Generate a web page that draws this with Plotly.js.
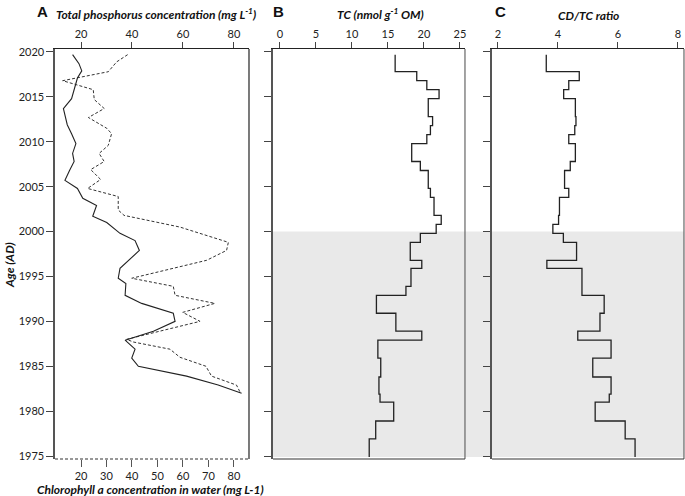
<!DOCTYPE html>
<html>
<head>
<meta charset="utf-8">
<script src="https://cdn.plot.ly/plotly-3.0.1.min.js"></script>
<style>
  html, body { margin: 0; padding: 0; background: #fff; }
  #chart { width: 685px; height: 496px; }
</style>
</head>
<body>
<div id="chart"></div>
<script>
// panel A: total phosphorus (solid, top axis) and chlorophyll a (dashed, bottom axis)
const tpYear = [2019.7, 2018.7, 2017.9, 2017.1, 2016.1, 2014.8, 2013.7, 2013.0, 2011.9, 2010.9,
  2009.8, 2008.7, 2007.8, 2006.8, 2005.7, 2004.8, 2003.7, 2002.9, 2001.7, 2001.0,
  1999.8, 1999.0, 1997.9, 1995.9, 1994.8, 1994.2, 1992.9, 1992.0, 1990.9, 1990.0,
  1988.9, 1987.9, 1986.9, 1985.9, 1985.0, 1983.9, 1982.9, 1982.0];
const tpValue = [16.7, 19.2, 20.3, 18.6, 17.6, 16.3, 13.1, 13.7, 14.6, 16.3,
  18.0, 16.7, 17.3, 15.5, 13.7, 18.6, 20.7, 26.1, 24.6, 30.1,
  35.3, 41.2, 42.9, 35.3, 34.6, 37.6, 37.3, 43.8, 56.2, 56.9,
  48.4, 37.3, 41.2, 39.9, 42.5, 61.4, 73.8, 83.0];

const chlYear = [2019.7, 2018.9, 2017.8, 2016.8, 2015.8, 2014.7, 2013.7, 2012.7, 2011.5, 2010.9,
  2009.6, 2008.7, 2007.8, 2006.9, 2005.8, 2004.8, 2003.9, 2002.4, 2001.8, 2000.5,
  1998.8, 1997.9, 1996.8, 1994.8, 1993.9, 1992.9, 1992.0, 1991.0, 1990.0, 1988.0,
  1987.7, 1986.9, 1986.0, 1985.0, 1983.9, 1982.9, 1982.0];
const chlValue = [38.3, 34.0, 30.7, 12.8, 24.8, 25.2, 29.1, 22.9, 30.1, 32.0,
  30.7, 27.1, 29.1, 23.8, 27.7, 22.6, 34.6, 34.6, 36.9, 58.8,
  77.8, 77.1, 69.3, 39.9, 56.2, 56.9, 72.5, 59.9, 66.7, 37.9,
  40.5, 54.9, 58.8, 69.0, 71.2, 81.0, 82.6];

// panels B and C: sediment slices (top ages, last entry = base of core)
const sliceTop = [2019.7, 2017.8, 2016.8, 2015.8, 2014.8, 2012.8, 2011.8, 2010.8, 2009.8, 2007.8,
  2006.8, 2004.8, 2003.8, 2001.8, 2000.8, 1999.8, 1998.8, 1996.8, 1995.9, 1993.9,
  1992.9, 1990.9, 1988.9, 1987.9, 1985.9, 1983.8, 1981.9, 1981.0, 1978.9, 1976.9, 1974.9];
const tcValue = [16.0, 19.0, 20.4, 22.1, 20.6, 21.2, 20.9, 20.4, 18.3, 19.5,
  20.6, 20.9, 21.4, 22.4, 21.7, 19.5, 18.1, 19.7, 18.2, 17.5,
  13.4, 16.1, 19.7, 13.6, 14.0, 13.75, 13.9, 15.8, 13.3, 12.4];
const ratioValue = [3.61, 4.71, 4.36, 4.19, 4.58, 4.60, 4.56, 4.36, 4.58, 4.41,
  4.22, 4.36, 4.05, 4.02, 3.83, 4.18, 4.62, 3.63, 4.80, 4.80,
  5.54, 5.40, 4.66, 5.77, 5.16, 5.77, 5.71, 5.24, 6.24, 6.57];

const yearTicks = [1975, 1980, 1985, 1990, 1995, 2000, 2005, 2010, 2015, 2020];
const shadeFrom = 2000;

const font = 'Lato, "Open Sans", sans-serif';
const tickFont = { family: font, size: 11, color: '#222' };
const yRange = [1974.67, 2020.33];
const yDomain = [0.0746, 0.9012];

function stepped(vals) {
  return vals.concat([vals[vals.length - 1]]);
}

const traces = [
  {
    x: tpValue, y: tpYear, xaxis: 'x2', yaxis: 'y',
    mode: 'lines', line: { color: '#222', width: 1.1 },
    hoverinfo: 'x+y'
  },
  {
    x: chlValue, y: chlYear, xaxis: 'x', yaxis: 'y',
    mode: 'lines', line: { color: '#333', width: 1, dash: '3px,2px' },
    hoverinfo: 'x+y'
  },
  {
    x: stepped(tcValue), y: sliceTop, xaxis: 'x3', yaxis: 'y2',
    mode: 'lines', line: { color: '#222', width: 1.3, shape: 'vh' }
  },
  {
    x: stepped(ratioValue), y: sliceTop, xaxis: 'x4', yaxis: 'y3',
    mode: 'lines', line: { color: '#222', width: 1.3, shape: 'vh' }
  }
];

function topAxis(extra) {
  return Object.assign({
    side: 'top', ticks: 'outside', ticklen: 6, tickcolor: '#444',
    showline: true, linecolor: '#222', linewidth: 1,
    showgrid: false, zeroline: false, tickfont: tickFont, fixedrange: true
  }, extra);
}

function yAxis(extra) {
  return Object.assign({
    domain: yDomain, range: yRange, tickvals: yearTicks,
    ticks: 'outside', ticklen: 7, tickcolor: '#444',
    showline: true, linecolor: '#555', linewidth: 1.6,
    showgrid: false, zeroline: false, tickfont: tickFont, fixedrange: true
  }, extra);
}

function border(ax, ay, dash, color) {
  return [
    { type: 'line', xref: ax + ' domain', yref: ay + ' domain', x0: 1, x1: 1, y0: 0, y1: 1,
      line: { color: color || '#222', width: 1.2 } },
    { type: 'line', xref: ax + ' domain', yref: ay + ' domain', x0: 0, x1: 1, y0: 0, y1: 0,
      line: { color: '#333', width: 1.2, dash: dash || 'solid' } }
  ];
}

function label(text, px, py, size, fam, angle) {
  return {
    text: text, x: px / 685, y: 1 - py / 496, xref: 'paper', yref: 'paper',
    xanchor: 'center', yanchor: 'middle', showarrow: false, textangle: angle || 0,
    font: { family: fam || font, size: size, color: '#111' }
  };
}

const letterFont = 'Liberation Sans, Arial, sans-serif';

const layout = {
  width: 685, height: 496,
  margin: { l: 0, r: 0, t: 0, b: 0 },
  paper_bgcolor: '#fff',
  plot_bgcolor: 'rgba(0,0,0,0)',
  showlegend: false,
  xaxis: {
    domain: [0.0803, 0.3635], anchor: 'y', range: [9.8, 85.9],
    tickvals: [20, 30, 40, 50, 60, 70, 80],
    ticks: 'outside', ticklen: 7, tickcolor: '#555',
    showline: false, showgrid: false, zeroline: false, tickfont: tickFont, fixedrange: true
  },
  xaxis2: topAxis({ overlaying: 'x', anchor: 'y', range: [9.8, 85.9], tickvals: [20, 40, 60, 80] }),
  xaxis3: topAxis({ domain: [0.3985, 0.6788], anchor: 'y2', range: [-0.97, 25.7], tickvals: [0, 5, 10, 15, 20, 25] }),
  xaxis4: topAxis({ domain: [0.7182, 0.9985], anchor: 'y3', range: [1.8, 8.2], tickvals: [2, 4, 6, 8] }),
  yaxis: yAxis({ anchor: 'x' }),
  yaxis2: yAxis({ anchor: 'x3', matches: 'y', showticklabels: false }),
  yaxis3: yAxis({ anchor: 'x4', matches: 'y', showticklabels: false }),
  shapes: [
    { type: 'rect', layer: 'below', xref: 'paper', yref: 'y2',
      x0: 0.3985, x1: 0.9985, y0: sliceTop[sliceTop.length - 1], y1: shadeFrom,
      fillcolor: '#e9e9e9', line: { width: 0 } }
  ].concat(border('x', 'y', '3px,2px'), border('x3', 'y2', null, '#666'), border('x4', 'y3', null, '#666')),
  annotations: [
    label('<b>A</b>', 42, 11, 15, letterFont),
    label('<b>B</b>', 278, 11, 15, letterFont),
    label('<b>C</b>', 500, 11, 15, letterFont),
    label('<b><i>Total phosphorus concentration (mg L<sup>-1</sup>)</i></b>', 156, 14, 12),
    label('<b><i>TC (nmol g<sup>-1</sup> OM)</i></b>', 380, 14, 12),
    label('<b><i>CD/TC ratio</i></b>', 588, 15, 12),
    label('<b><i>Chlorophyll a concentration in water (mg L-1)</i></b>', 150, 489, 12),
    label('<b><i>Age (AD)</i></b>', 9, 265, 12, null, -90)
  ]
};

Plotly.newPlot('chart', traces, layout, { displayModeBar: false, staticPlot: true });
</script>
</body>
</html>
